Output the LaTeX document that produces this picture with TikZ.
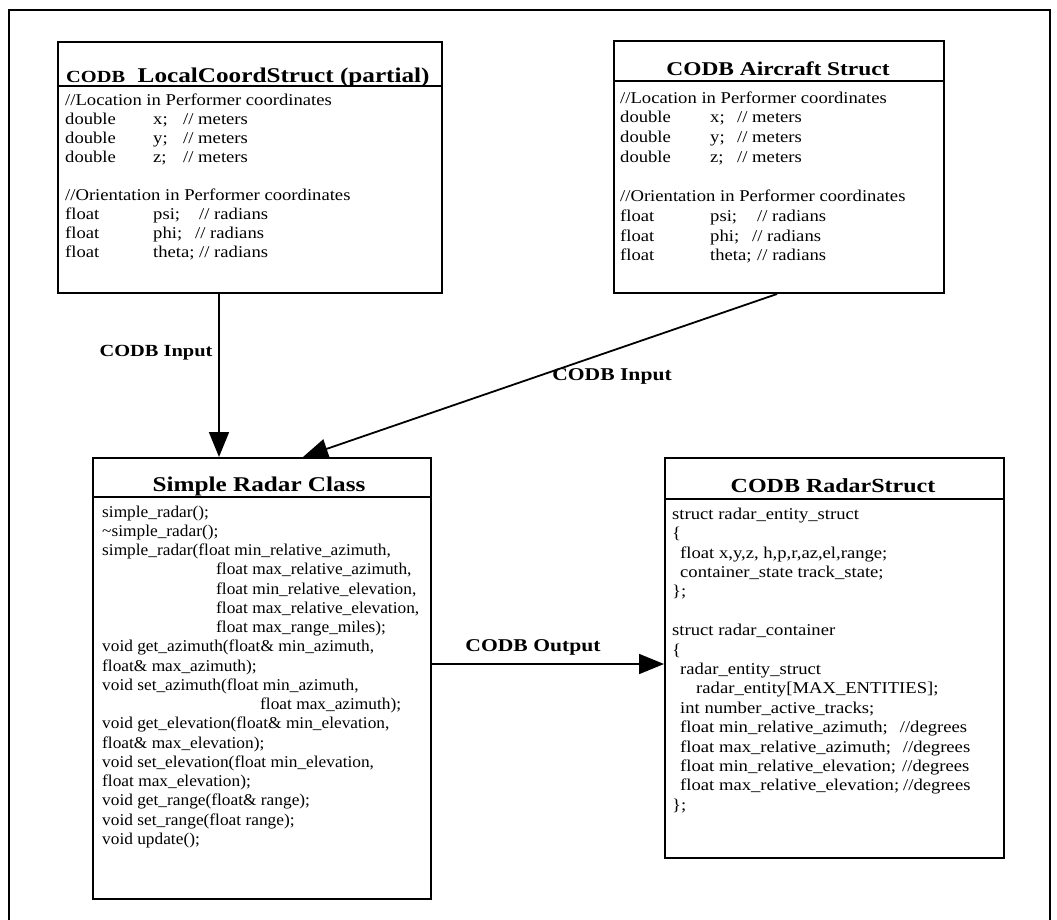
\documentclass[tikz,border=0pt]{standalone}
\usepackage{fontspec}
\setmainfont{Liberation Serif}[FakeStretch=1.2]
\newfontfamily\bodyfont{Liberation Serif}[FakeStretch=1.13]
\newfontfamily\srfont{Liberation Serif}[FakeStretch=1.05]
\usetikzlibrary{arrows.meta}
\begin{document}
\begin{tikzpicture}[x=1pt,y=-1pt,
  box/.style={draw,line width=2pt,inner sep=0pt,anchor=north west},
  divider/.style={line width=1.8pt},
  title/.style={inner sep=0pt,font=\fontsize{20}{24}\selectfont\bfseries},
  body/.style={inner sep=0pt,anchor=north west,align=left},
  lbl/.style={inner sep=0pt,font=\fontsize{18}{22}\selectfont\bfseries},
  arr/.style={line width=1.8pt,-{Triangle[length=25pt,width=20pt]}}]
\useasboundingbox (0,0) rectangle (1057,920);
% outer frame
\draw[line width=1.5pt] (9,920) -- (9,10) -- (1050,10) -- (1050,920);

% CODB LocalCoordStruct
\node[box,minimum width=384pt,minimum height=251pt] (lcs) at (57,41) {};
\draw[divider] (lcs.west |- 0,86) -- (lcs.east |- 0,86);
\node[title,anchor=base west,font=\fontsize{21}{24}\selectfont\bfseries] (lcst) at (66,83) {{\fontsize{17}{20}\selectfont CODB}\ \ LocalCoordStruct (partial)};
\node[body,font=\bodyfont\fontsize{16.5}{19}\selectfont] (lcsb) at (65,91) {\rule{0pt}{14pt}//Location in Performer coordinates\\
\makebox[88pt][l]{double}\makebox[30pt][l]{x;}// meters\\
\makebox[88pt][l]{double}\makebox[30pt][l]{y;}// meters\\
\makebox[88pt][l]{double}\makebox[30pt][l]{z;}// meters\\
\mbox{}\\
//Orientation in Performer coordinates\\
\makebox[88pt][l]{float}\makebox[46pt][l]{psi;}// radians\\
\makebox[88pt][l]{float}\makebox[42pt][l]{phi;}// radians\\
\makebox[88pt][l]{float}\makebox[46pt][l]{theta;}// radians};

% CODB Aircraft Struct
\node[box,minimum width=330pt,minimum height=252pt] (ac) at (613,40) {};
\draw[divider] (ac.west |- 0,81) -- (ac.east |- 0,81);
\node[title,anchor=base,font=\fontsize{19.5}{24}\selectfont\bfseries] (act) at (778,76) {CODB Aircraft Struct};
\node[body,font=\bodyfont\fontsize{16.5}{19.7}\selectfont] (acb) at (620,89) {\rule{0pt}{14pt}//Location in Performer coordinates\\
\makebox[90pt][l]{double}\makebox[27pt][l]{x;}// meters\\
\makebox[90pt][l]{double}\makebox[27pt][l]{y;}// meters\\
\makebox[90pt][l]{double}\makebox[27pt][l]{z;}// meters\\
\mbox{}\\
//Orientation in Performer coordinates\\
\makebox[90pt][l]{float}\makebox[47pt][l]{psi;}// radians\\
\makebox[90pt][l]{float}\makebox[42pt][l]{phi;}// radians\\
\makebox[90pt][l]{float}\makebox[47pt][l]{theta;}// radians};

% Simple Radar Class
\node[box,minimum width=338pt,minimum height=441pt] (sr) at (92,457) {};
\draw[divider] (sr.west |- 0,497) -- (sr.east |- 0,497);
\node[title,anchor=base,font=\fontsize{21}{24}\selectfont\bfseries] (srt) at (259,491) {Simple Radar Class};
\node[body,font=\srfont\fontsize{16.5}{19.24}\selectfont] (srb) at (102,503) {\rule{0pt}{14pt}simple\_radar();\\
\textasciitilde simple\_radar();\\
simple\_radar(float min\_relative\_azimuth,\\
\hspace*{114pt}float max\_relative\_azimuth,\\
\hspace*{114pt}float min\_relative\_elevation,\\
\hspace*{114pt}float max\_relative\_elevation,\\
\hspace*{114pt}float max\_range\_miles);\\
void get\_azimuth(float\& min\_azimuth,\\
float\& max\_azimuth);\\
void set\_azimuth(float min\_azimuth,\\
\hspace*{158pt}float max\_azimuth);\\
void get\_elevation(float\& min\_elevation,\\
float\& max\_elevation);\\
void set\_elevation(float min\_elevation,\\
float max\_elevation);\\
void get\_range(float\& range);\\
void set\_range(float range);\\
void update();};

% CODB RadarStruct
\node[box,minimum width=339pt,minimum height=400pt] (rs) at (664,457) {};
\draw[divider] (rs.west |- 0,499) -- (rs.east |- 0,499);
\node[title,anchor=base] (rst) at (833,492) {CODB RadarStruct};
\node[body,font=\bodyfont\fontsize{16.5}{19.4}\selectfont] (rsb) at (672,505) {\rule{0pt}{14pt}struct radar\_entity\_struct\\
\{\\
\hspace*{8pt}float x,y,z, h,p,r,az,el,range;\\
\hspace*{8pt}container\_state track\_state;\\
\};\\
\mbox{}\\
struct radar\_container\\
\{\\
\hspace*{8pt}radar\_entity\_struct\\
\hspace*{24pt}radar\_entity[MAX\_ENTITIES];\\
\hspace*{8pt}int number\_active\_tracks;\\
\hspace*{8pt}float min\_relative\_azimuth;\hspace{12pt}//degrees\\
\hspace*{8pt}float max\_relative\_azimuth;\hspace{12pt}//degrees\\
\hspace*{8pt}float min\_relative\_elevation;\hspace{6pt}//degrees\\
\hspace*{8pt}float max\_relative\_elevation;\hspace{4pt}//degrees\\
\};};

% connectors
\draw[arr] ([xshift=-31pt]lcs.south) -- ([xshift=-43pt]sr.north);
\draw[arr] ([xshift=-2pt]ac.south) -- ([xshift=41pt]sr.north);
\draw[arr] ([yshift=14.5pt]sr.east) -- ([yshift=-6pt]rs.west);

% labels
\node[lbl,font=\fontsize{17}{20}\selectfont\bfseries] (in1) at (156,353) {CODB Input};
\node[lbl] (in2) at (612,376) {CODB Input};
\node[lbl] (out) at (533,647) {CODB Output};
\end{tikzpicture}
\end{document}
